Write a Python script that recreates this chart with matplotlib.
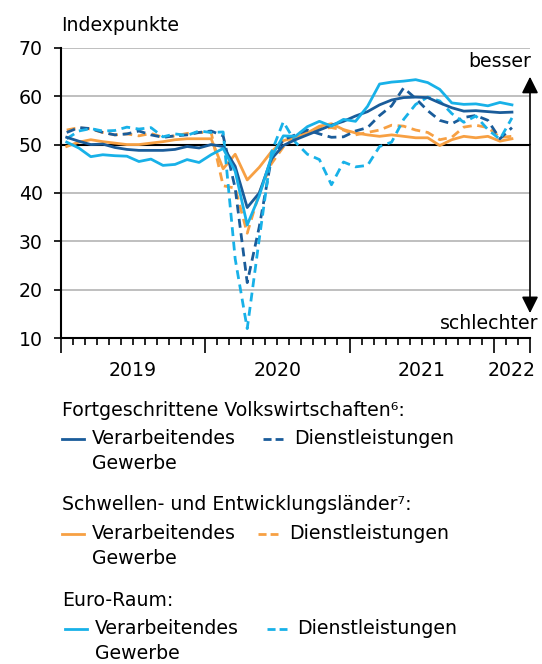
import numpy as np
import matplotlib
matplotlib.use("Agg")
import matplotlib.pyplot as plt
from matplotlib.lines import Line2D

plt.rcParams['font.family'] = ['DejaVu Sans']

# monthly values, Jan 2019 .. Feb 2022
months = np.arange(38) + 0.5
years = ["2019", "2020", "2021", "2022"]
year_pos = [6, 18, 30, 37.5]

adv_mfg = [51.5, 50.7, 50.0, 50.1, 49.4, 49.0, 48.8, 48.8, 48.8, 49.0, 49.6, 49.3,
           50.0, 49.6, 45.5, 37.0, 40.0, 47.0, 49.8, 51.0, 52.0, 53.0, 54.0, 54.8,
           55.9, 56.8, 58.2, 59.2, 59.7, 59.8, 59.7, 58.6, 57.6, 56.9, 57.0, 56.8,
           56.6, 56.7]
adv_svc = [52.5, 53.5, 53.3, 52.5, 52.0, 52.2, 52.8, 52.0, 51.5, 51.8, 52.0, 52.5,
           52.8, 51.8, 41.0, 21.5, 33.0, 47.0, 51.0, 52.0, 53.0, 52.2, 51.5, 51.6,
           52.8, 53.5, 56.0, 58.0, 61.7, 59.5, 57.0, 55.0, 54.3, 55.6, 56.0, 55.0,
           51.2, 53.5]
em_mfg = [49.6, 50.5, 51.0, 50.6, 50.3, 50.0, 50.0, 50.3, 50.6, 51.0, 51.2, 51.2,
          51.2, 45.0, 48.0, 42.7, 45.3, 48.5, 50.8, 51.5, 52.4, 53.8, 54.3, 53.1,
          52.4, 52.0, 51.7, 52.0, 51.7, 51.4, 51.4, 49.8, 51.0, 51.7, 51.4, 51.7,
          50.7, 51.2]
em_svc = [53.0, 53.5, 53.2, 52.5, 52.0, 52.2, 51.8, 52.3, 51.5, 51.8, 52.3, 52.5,
          52.5, 41.5, 41.0, 31.7, 40.0, 46.0, 49.5, 51.5, 52.8, 53.3, 53.5, 53.0,
          52.0, 52.5, 53.0, 54.0, 53.8, 53.0, 52.5, 51.0, 51.5, 53.6, 54.0, 53.5,
          51.5, 51.7]
ea_mfg = [50.5, 49.3, 47.5, 47.9, 47.7, 47.6, 46.5, 47.0, 45.7, 45.9, 46.9, 46.3,
          47.9, 49.2, 44.5, 33.4, 39.4, 47.4, 51.8, 51.7, 53.7, 54.8, 53.8, 55.2,
          54.8, 57.9, 62.5, 62.9, 63.1, 63.4, 62.8, 61.4, 58.6, 58.3, 58.4, 58.0,
          58.7, 58.2]
ea_svc = [51.2, 52.8, 53.3, 52.8, 52.9, 53.6, 53.2, 53.5, 51.6, 52.2, 51.9, 52.8,
          52.5, 52.6, 26.4, 12.0, 30.5, 48.3, 54.7, 50.5, 48.0, 46.9, 41.7, 46.4,
          45.4, 45.7, 49.6, 50.5, 55.2, 58.3, 59.8, 59.0, 56.4, 54.6, 55.9, 53.1,
          51.1, 55.5]

dark = "#1a5c9a"
orange = "#f7a043"
light = "#18b1e8"
dash = (0, (3.2, 2.0))
lw = 2.0
fs = 13.6

W, H = 542, 664
fig = plt.figure(figsize=(W / 100, H / 100), dpi=100)
ax = fig.add_axes([60.7 / W, 1 - 338.3 / H, (530 - 60.7) / W, (338.3 - 47.7) / H])

for y in [20, 30, 40, 60, 70]:
    ax.axhline(y, color="#b4b4b4", lw=1.2, zorder=1)
ax.axhline(50, color="black", lw=1.5, zorder=2)

ax.plot(months, em_svc, color=orange, lw=lw, ls=dash, zorder=3)
ax.plot(months, em_mfg, color=orange, lw=lw, zorder=3)
ax.plot(months, adv_svc, color=dark, lw=lw, ls=dash, zorder=4)
ax.plot(months, ea_svc, color=light, lw=lw, ls=dash, zorder=4)
ax.plot(months, adv_mfg, color=dark, lw=lw, zorder=5)
ax.plot(months, ea_mfg, color=light, lw=lw, zorder=5)

ax.set_xlim(0, 39)
ax.set_ylim(10, 70)
ax.set_yticks([10, 20, 30, 40, 50, 60, 70])
ax.tick_params(axis="y", length=5, width=1.2, pad=8, labelsize=fs)
ax.set_xticks([0, 12, 24, 36, 39])
ax.set_xticks(np.arange(40), minor=True)
ax.set_xticklabels([])
ax.tick_params(axis="x", which="major", length=11, width=1.2, direction="out")
ax.tick_params(axis="x", which="minor", length=5, width=1.2, direction="out")
for s in ["top", "right"]:
    ax.spines[s].set_visible(False)
ax.spines["left"].set_linewidth(1.5)
ax.spines["bottom"].set_linewidth(1.5)

for lab, p in zip(years, year_pos):
    ax.text(p, -0.111, lab, transform=ax.get_xaxis_transform(), ha="center",
            va="center", fontsize=fs)

ax.text(0, 1.045, "Indexpunkte", transform=ax.transAxes, ha="left",
        va="bottom", fontsize=fs)

# besser / schlechter arrows
ax.annotate("", xy=(39, 64.0), xytext=(39, 50), annotation_clip=False,
            arrowprops=dict(arrowstyle="-|>,head_length=1.0,head_width=0.5",
                            color="black", lw=1.2, shrinkA=0, shrinkB=0))
ax.annotate("", xy=(39, 15.2), xytext=(39, 50), annotation_clip=False,
            arrowprops=dict(arrowstyle="-|>,head_length=1.0,head_width=0.5",
                            color="black", lw=1.2, shrinkA=0, shrinkB=0))
ax.text(39.1, 67.2, "besser", ha="right", va="center", fontsize=fs, clip_on=False)
ax.text(39.7, 13.0, "schlechter", ha="right", va="center", fontsize=fs,
        clip_on=False)


# legend block below the chart
def fx(x):
    return x / W


def fy(y):
    return 1 - y / H


def handle(x0, x1, y, color, ls):
    fig.add_artist(Line2D([fx(x0), fx(x1)], [fy(y), fy(y)], color=color,
                          lw=lw, ls=ls, transform=fig.transFigure))


groups = [
    ("Fortgeschrittene Volkswirtschaften\u2076:", dark, 410, 62, 92, 263, 294),
    ("Schwellen- und Entwicklungsl\u00e4nder\u2077:", orange, 505, 62, 92, 258, 289),
    ("Euro-Raum:", light, 600, 65, 95, 267, 297),
]
for title, col, ty, hx, tx, dx, dtx in groups:
    fig.text(fx(62), fy(ty), title, ha="left", va="center", fontsize=fs)
    ry = ty + 28.5
    handle(hx, hx + 22, ry, col, "-")
    fig.text(fx(tx), fy(ry), "Verarbeitendes", ha="left", va="center", fontsize=fs)
    fig.text(fx(tx), fy(ry + 25), "Gewerbe", ha="left", va="center", fontsize=fs)
    handle(dx, dx + 20, ry, col, (0, (2.9, 1.45)))
    fig.text(fx(dtx), fy(ry), "Dienstleistungen", ha="left", va="center", fontsize=fs)

fig.savefig("out.png", dpi=100)
